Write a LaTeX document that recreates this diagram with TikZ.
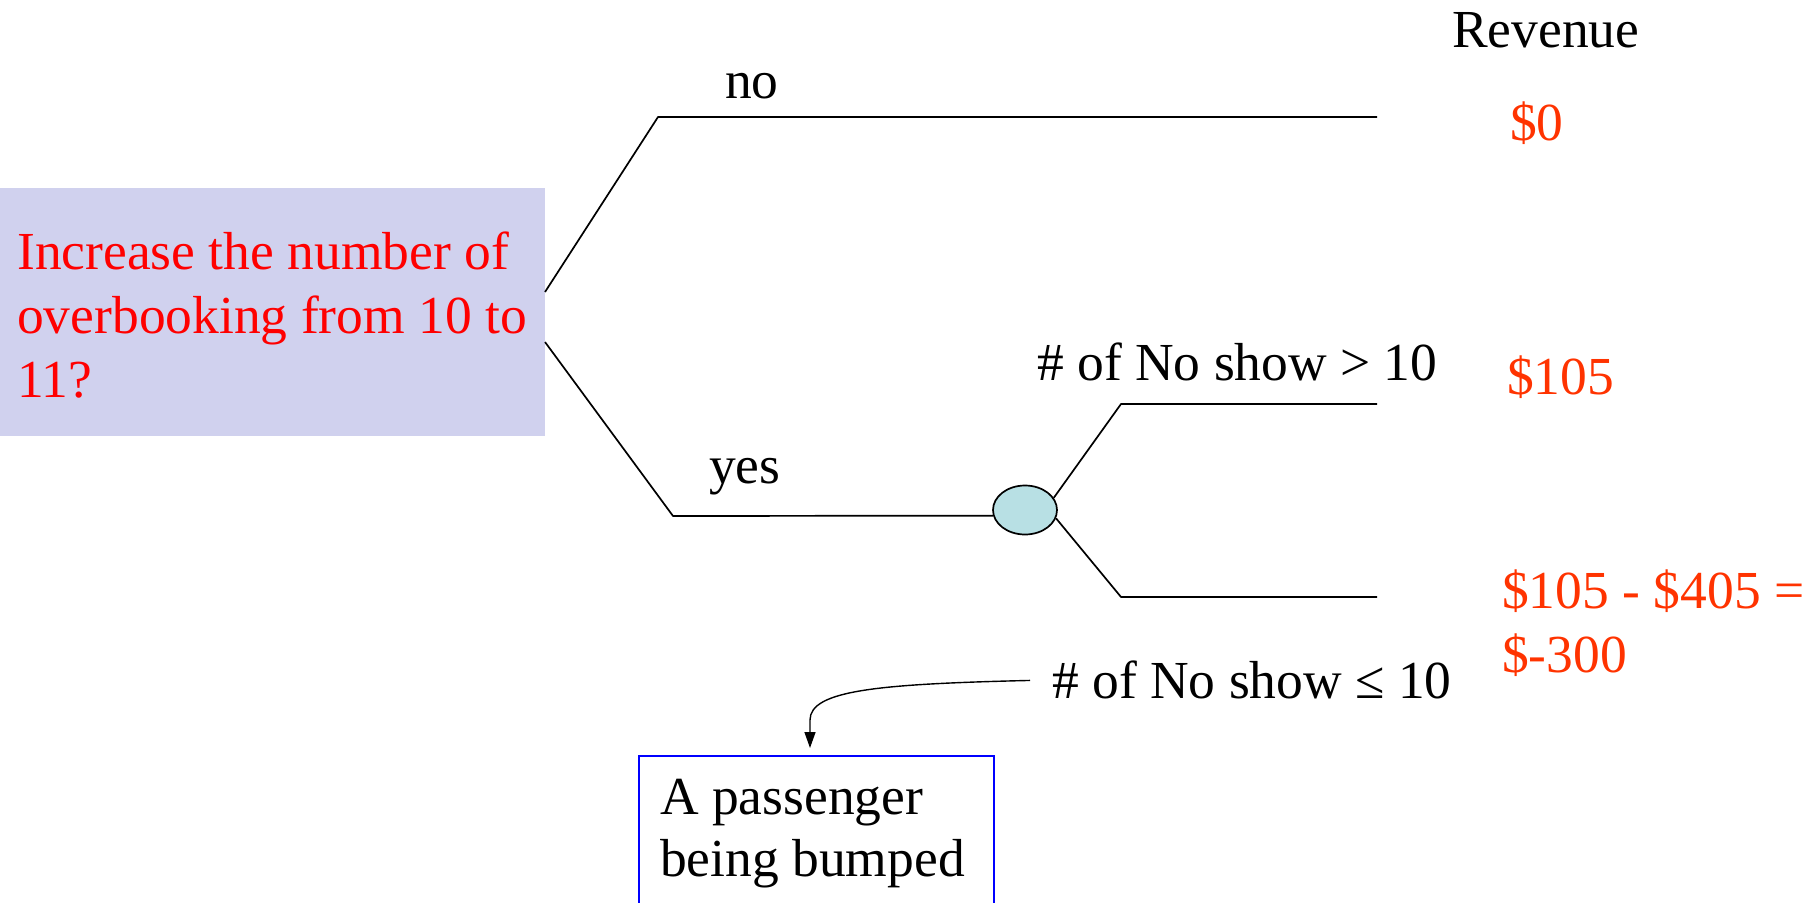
\documentclass[tikz,border=0pt]{standalone}
\usepackage{fontspec}
\setmainfont{Liberation Serif}
\usetikzlibrary{shapes.geometric,arrows.meta}
\definecolor{qfill}{RGB}{208,209,238}
\definecolor{chancefill}{RGB}{184,224,228}
\definecolor{payoff}{RGB}{255,51,0}
\tikzset{
  txt/.style={font=\fontsize{53.5}{64}\selectfont, inner sep=0pt, anchor=base west},
  pay/.style={txt, text=payoff, align=left},
  branch/.style={line width=1.7pt, line join=round},
  qbox/.style={fill=qfill, anchor=north west, minimum width=545pt, minimum height=248pt, inner sep=0pt},
  chance/.style={ellipse, draw, line width=1.7pt, fill=chancefill, minimum width=64pt, minimum height=49pt, inner sep=0pt},
  notebox/.style={draw=blue, line width=1.7pt, anchor=north west, minimum width=355pt, minimum height=160pt, inner sep=0pt}
}
\begin{document}
\begin{tikzpicture}[x=1pt,y=-1pt]
\useasboundingbox (0,0) rectangle (1817,902);
\clip (0,0) rectangle (1817,902);
% decision box
\node[qbox] (q) at (0,188) {};
\node[txt, text=red, align=left, anchor=north west] (qt) at (17,231.6) {Increase the number of\\overbooking from 10 to\\11?};
% coordinates of the tree
\coordinate (qa) at (545,292);
\coordinate (qb) at (545,342);
\coordinate (nokink) at (658,117);
\coordinate (noend) at (1377,117);
\coordinate (yeskink) at (673,516);
\node[chance] (c) at (1025,510) {};
\coordinate (upkink) at (1121,404);
\coordinate (upend) at (1377,404);
\coordinate (lokink) at (1121,597);
\coordinate (loend) at (1377,597);
\draw[branch] (qa) -- (nokink) -- (noend);
\draw[branch] (qb) -- (yeskink) -- (c.190);
\draw[branch] (c.23) -- (upkink) -- (upend);
\draw[branch] (c.-15) -- (lokink) -- (loend);
% labels
\node[txt] (lno) at (725,98) {no};
\node[txt] (lyes) at (709,483) {yes};
\node[txt] (lgt) at (1037,380) {\# of No show > 10};
\node[txt] (lle) at (1052,698) {\# of No show ≤ 10};
\node[txt] (rev) at (1452,47) {Revenue};
\node[pay] (p0) at (1510,140) {\$0};
\node[pay] (p1) at (1507,394) {\$105};
\node[pay] (p2) at (1502,608) {\$105 - \$405 =};
\node[pay] (p3) at (1502,672) {\$-300};
% note box
\node[notebox] (nb) at (638,755) {};
\node[txt, align=left] (nbt) at (660,814) {A passenger};
\node[txt, align=left] (nbt2) at (660,876) {being bumped};
\draw[line width=1.4pt, -{Triangle[length=16pt,width=11pt]}] ([xshift=-22pt,yshift=-1pt]lle.west) .. controls (880,684) and (810,690) .. (810,720) -- (810,748);
\end{tikzpicture}
\end{document}
